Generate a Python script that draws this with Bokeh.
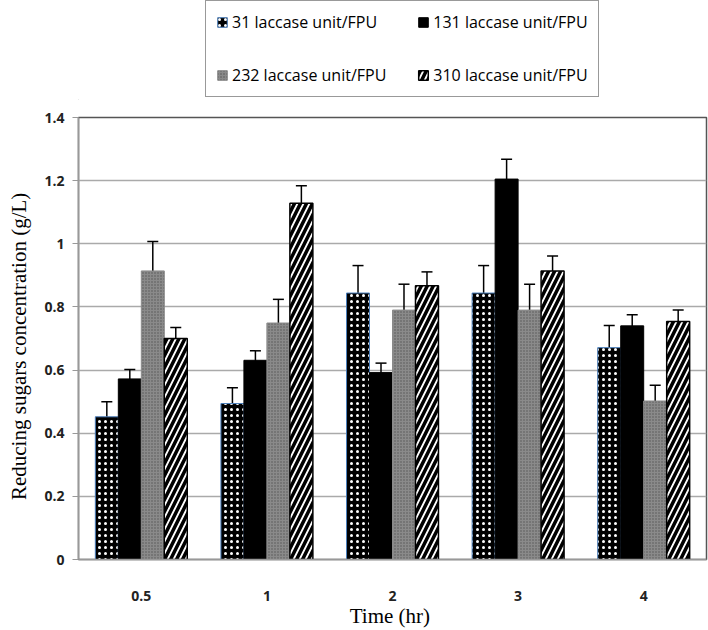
from bokeh.plotting import figure
from bokeh.layouts import column
from bokeh.models import (ColumnDataSource, Legend, LegendItem, Whisker, TeeHead,
                          FixedTicker)
from bokeh.transform import dodge
from bokeh.embed import file_html
from bokeh.resources import INLINE

# ---- data ----
times = ["0.5", "1", "2", "3", "4"]
s31 = [0.452, 0.494, 0.844, 0.844, 0.671]
e31 = [0.048, 0.050, 0.087, 0.087, 0.070]
s131 = [0.572, 0.631, 0.592, 1.205, 0.740]
e131 = [0.030, 0.030, 0.030, 0.063, 0.035]
s232 = [0.914, 0.749, 0.790, 0.790, 0.502]
e232 = [0.093, 0.075, 0.082, 0.082, 0.050]
s310 = [0.700, 1.128, 0.867, 0.914, 0.754]
e310 = [0.035, 0.056, 0.044, 0.047, 0.036]
series_labels = ["31 laccase unit/FPU", "131 laccase unit/FPU",
                 "232 laccase unit/FPU", "310 laccase unit/FPU"]
y_ticks = [0, 0.2, 0.4, 0.6, 0.8, 1.0, 1.2, 1.4]
y_tick_labels = ["0", "0.2", "0.4", "0.6", "0.8", "1", "1.2", "1.4"]

src = ColumnDataSource(dict(
    time=times,
    s31=s31, u31=[v + e for v, e in zip(s31, e31)], l31=[v - e for v, e in zip(s31, e31)],
    s131=s131, u131=[v + e for v, e in zip(s131, e131)], l131=[v - e for v, e in zip(s131, e131)],
    s232=s232, u232=[v + e for v, e in zip(s232, e232)], l232=[v - e for v, e in zip(s232, e232)],
    s310=s310, u310=[v + e for v, e in zip(s310, e310)], l310=[v - e for v, e in zip(s310, e310)],
))

bw = 0.183
offsets = [-1.5 * bw, -0.5 * bw, 0.5 * bw, 1.5 * bw]
keys = ["31", "131", "232", "310"]
styles = [
    dict(fill_color="black", line_color="#4a7ebb", line_width=1,
         hatch_pattern="dot", hatch_color="white", hatch_scale=6, hatch_weight=1),
    dict(fill_color="black", line_color="black", line_width=1),
    dict(fill_color="#8a8a8a", line_color="#8a8a8a", line_width=1,
         hatch_pattern="dot", hatch_color="#555555", hatch_scale=3, hatch_weight=1),
    dict(fill_color="white", line_color="black", line_width=1.5,
         hatch_pattern="right_diagonal_line", hatch_color="black",
         hatch_scale=12, hatch_weight=3.5),
]

# ---- legend strip (own small figure above the chart) ----
leg_fig = figure(width=708, height=100, output_backend="svg", toolbar_location=None,
                 x_range=(0, 1), y_range=(0, 1), min_border=0,
                 x_axis_location=None, y_axis_location=None)
leg_fig.xgrid.grid_line_color = None
leg_fig.ygrid.grid_line_color = None
leg_fig.outline_line_color = None
# the legend swatches need one data row each; it lies far outside the visible ranges
offscreen = ColumnDataSource(dict(x=[-100], top=[-100], bottom=[-200]))
leg_renderers = [leg_fig.vbar(x="x", top="top", bottom="bottom", width=0.1,
                              source=offscreen, **st)
                 for st in styles]
legend = Legend(items=[LegendItem(label=lab, renderers=[r])
                       for lab, r in zip(series_labels, leg_renderers)],
                orientation="horizontal", ncols=2, location=(127, 3),
                label_text_font="Open Sans", label_text_font_size="16px",
                label_text_color="black",
                glyph_width=12, glyph_height=12, label_standoff=4,
                label_height=22, spacing=31, padding=10, margin=0,
                border_line_color="#333333", border_line_width=1.5,
                background_fill_color="white")
leg_fig.add_layout(legend)

# ---- main chart ----
p = figure(x_range=times, y_range=(0, 1.4), width=708, height=530,
           output_backend="svg", toolbar_location=None,
           min_border_left=78, min_border_right=2, min_border_top=17,
           min_border_bottom=63)

for k, off, st in zip(keys, offsets, styles):
    p.vbar(x=dodge("time", off, range=p.x_range), top="s" + k, width=bw,
           source=src, **st)
    w = Whisker(base=dodge("time", off, range=p.x_range), upper="u" + k,
                lower="l" + k, source=src, line_color="black", line_width=1.5,
                upper_head=TeeHead(size=11, line_color="black", line_width=1.5),
                lower_head=TeeHead(size=11, line_color="black", line_width=1.5))
    p.add_layout(w)

p.yaxis.ticker = FixedTicker(ticks=y_ticks)
p.yaxis.major_label_overrides = {t: l for t, l in zip(y_ticks, y_tick_labels)}
p.yaxis.axis_label = "Reducing  sugars  concentration  (g/L)"
p.xaxis.axis_label = "Time  (hr)"
for ax in (p.xaxis, p.yaxis):
    ax.axis_label_text_font = "Liberation Serif"
    ax.axis_label_text_font_size = "21px"
    ax.axis_label_text_font_style = "normal"
    ax.axis_label_text_color = "black"
    ax.major_label_text_font = "Open Sans"
    ax.major_label_text_font_size = "14px"
    ax.major_label_text_font_style = "bold"
    ax.major_label_text_color = "#222222"
    ax.axis_line_color = "#999999"
    ax.axis_line_width = 1.5
    ax.minor_tick_line_color = None
p.yaxis.major_tick_line_color = "#999999"
p.yaxis.major_tick_out = 6
p.yaxis.major_tick_in = 0
p.yaxis.major_label_standoff = 8
p.yaxis.axis_label_standoff = 10
p.xaxis.major_tick_line_color = None
p.xaxis.major_label_standoff = 25
p.xaxis.axis_label_standoff = 0

p.xgrid.grid_line_color = None
p.ygrid.grid_line_color = "#aaaaaa"
p.ygrid.grid_line_width = 1.5
p.outline_line_color = "#555555"
p.outline_line_width = 1.5
p.x_range.range_padding = 0

layout = column(leg_fig, p, spacing=0)
open("out.html", "w").write(file_html(layout, INLINE))
